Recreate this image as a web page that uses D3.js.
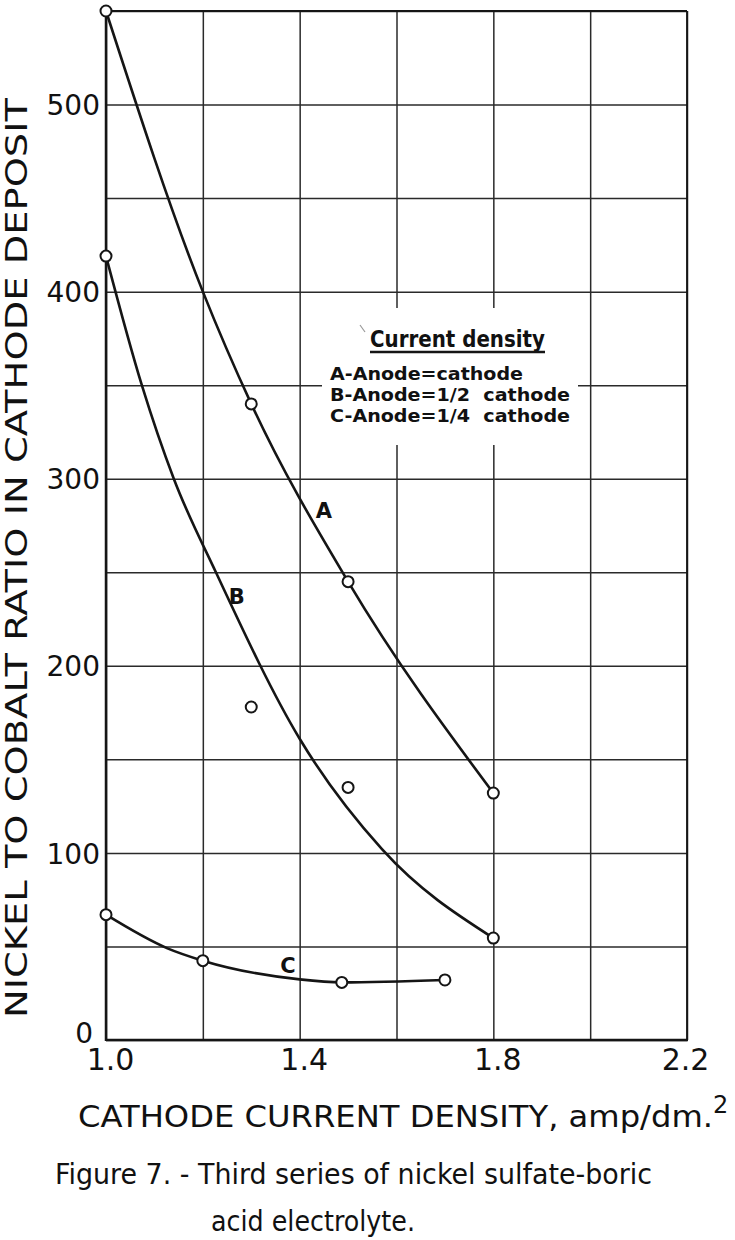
<!DOCTYPE html>
<html>
<head>
<meta charset="utf-8">
<script src="https://cdn.jsdelivr.net/npm/d3@7"></script>
<style>
  html, body { margin: 0; padding: 0; background: #fff; }
  svg { display: block; }
  text { fill: #111; font-family: "DejaVu Sans", sans-serif; white-space: pre; }
</style>
</head>
<body>
<svg id="chart" width="735" height="1240"></svg>
<script>
// ---- data ----
const xGridValues = [1.0, 1.2, 1.4, 1.6, 1.8, 2.0, 2.2];
const yGridValues = [0, 50, 100, 150, 200, 250, 300, 350, 400, 450, 500, 550];
const xTickLabels = [1.0, 1.4, 1.8, 2.2];
const yTickLabels = [0, 100, 200, 300, 400, 500];

// measured points (open circles)
const pointsA = [[1.0, 550], [1.3, 340], [1.5, 245], [1.8, 132]];
const pointsB = [[1.0, 419], [1.3, 178], [1.5, 135], [1.8, 54.5]];
const pointsC = [[1.0, 67], [1.2, 42.4], [1.487, 30.8], [1.7, 32.1]];

// hand-drawn smooth curves
const curveA = [[1.0, 550], [1.2, 400], [1.3, 340], [1.5, 245], [1.8, 132]];
const curveB = [[1.0, 419], [1.074, 350], [1.14, 300], [1.227, 250], [1.4, 161], [1.57, 102], [1.8, 54.5]];
const curveC = [[1.0, 67], [1.127, 49], [1.2, 42.4], [1.4, 32.4], [1.487, 30.8], [1.7, 32.1]];

const curveLabels = [
  { name: "A", x: 1.45, y: 279 },
  { name: "B", x: 1.27, y: 233 },
  { name: "C", x: 1.376, y: 36 }
];

const legendTitle = "Current density";
const legendItems = ["A-Anode=cathode", "B-Anode=1/2  cathode", "C-Anode=1/4  cathode"];

const yTitle = "NICKEL TO COBALT RATIO IN CATHODE DEPOSIT";
const xTitle = "CATHODE CURRENT DENSITY, amp/dm.";
const captionLines = ["Figure 7. - Third series of nickel sulfate-boric", "acid electrolyte."];

// ---- layout ----
const svg = d3.select("#chart");
const pL = 106, pR = 687, pT = 11, pB = 1040;
const x = d3.scaleLinear().domain([1.0, 2.2]).range([pL, pR]);
const y = d3.scaleLinear().domain([0, 550]).range([pB, pT]);
const ink = "#151515";

// gridlines
const gx = svg.append("g").attr("transform", `translate(0,${pB})`)
  .call(d3.axisBottom(x).tickValues(xGridValues).tickSize(-(pB - pT)).tickFormat(""));
const gy = svg.append("g").attr("transform", `translate(${pL},0)`)
  .call(d3.axisLeft(y).tickValues(yGridValues).tickSize(-(pR - pL)).tickFormat(""));
[gx, gy].forEach(g => {
  g.select(".domain").remove();
  g.selectAll(".tick line").attr("stroke", "#2a2a2a").attr("stroke-width", 1.5);
});

// frame
svg.append("line").attr("x1", pL).attr("x2", pR).attr("y1", pT).attr("y2", pT)
  .attr("stroke", ink).attr("stroke-width", 1.8);
svg.append("line").attr("x1", pR).attr("x2", pR).attr("y1", pT).attr("y2", pB)
  .attr("stroke", ink).attr("stroke-width", 1.8);
svg.append("line").attr("x1", pL).attr("x2", pL).attr("y1", pT).attr("y2", pB + 1)
  .attr("stroke", ink).attr("stroke-width", 2.5);
svg.append("line").attr("x1", pL).attr("x2", pR + 1).attr("y1", pB).attr("y2", pB)
  .attr("stroke", ink).attr("stroke-width", 2.6);

// legend background (white block interrupting grid)
svg.append("rect").attr("x", 322).attr("y", 308).attr("width", 256).attr("height", 137).attr("fill", "#fff");

// tick labels
const xl = svg.append("g").attr("transform", `translate(0,${pB})`)
  .call(d3.axisBottom(x).tickValues(xTickLabels).tickSize(0).tickPadding(9).tickFormat(d3.format(".1f")));
xl.select(".domain").remove();
xl.selectAll("text").attr("font-size", 30).attr("font-family", "DejaVu Sans").attr("fill", ink)
  .attr("dx", d => d < 2 ? 4 : -2);

const yl = svg.append("g").attr("transform", `translate(${pL},0)`)
  .call(d3.axisLeft(y).tickValues(yTickLabels).tickSize(0).tickPadding(6).tickFormat(d3.format("d")));
yl.select(".domain").remove();
yl.selectAll("text").attr("font-size", 28).attr("font-family", "DejaVu Sans").attr("fill", ink)
  .attr("dx", d => d === 0 ? -7 : 0)
  .attr("dy", d => d === 0 ? "0.1em" : "0.36em");

// curves
const line = d3.line().x(d => x(d[0])).y(d => y(d[1])).curve(d3.curveMonotoneX);
[curveA, curveB, curveC].forEach(c => {
  svg.append("path").datum(c).attr("d", line).attr("fill", "none")
    .attr("stroke", ink).attr("stroke-width", 2.6).attr("stroke-linejoin", "round");
});

// markers
[pointsA, pointsB, pointsC].forEach(pts => {
  svg.append("g").selectAll("circle").data(pts).join("circle")
    .attr("cx", d => x(d[0])).attr("cy", d => y(d[1])).attr("r", 5.5)
    .attr("fill", "#fff").attr("stroke", ink).attr("stroke-width", 2);
});

// curve labels
svg.append("g").selectAll("text").data(curveLabels).join("text")
  .attr("x", d => x(d.x)).attr("y", d => y(d.y)).attr("text-anchor", "middle")
  .attr("font-size", 21).attr("font-weight", "bold").text(d => d.name);

// legend
svg.append("line").attr("x1", 360).attr("y1", 325).attr("x2", 365).attr("y2", 332)
  .attr("stroke", "#999").attr("stroke-width", 1.2);
svg.append("text").attr("x", 370).attr("y", 347).attr("font-size", 23).attr("font-weight", "bold")
  .attr("textLength", 175).attr("lengthAdjust", "spacingAndGlyphs").text(legendTitle);
svg.append("line").attr("x1", 370).attr("x2", 545).attr("y1", 352).attr("y2", 352)
  .attr("stroke", ink).attr("stroke-width", 2.4);
const legendLens = [193, 240, 240];
svg.append("g").selectAll("text").data(legendItems).join("text")
  .attr("x", 330).attr("y", (d, i) => 380 + i * 21)
  .attr("font-size", 18).attr("font-weight", "bold")
  .attr("textLength", (d, i) => legendLens[i]).attr("lengthAdjust", "spacingAndGlyphs")
  .text(d => d);

// axis titles
svg.append("text").attr("transform", "translate(27,558) rotate(-90)")
  .attr("text-anchor", "middle").attr("font-size", 30)
  .attr("textLength", 920).attr("lengthAdjust", "spacingAndGlyphs").text(yTitle);
svg.append("text").attr("x", 78).attr("y", 1127).attr("font-size", 30)
  .attr("textLength", 635).attr("lengthAdjust", "spacingAndGlyphs").text(xTitle);
svg.append("text").attr("x", 713).attr("y", 1113).attr("font-size", 24).text("2");

// caption
svg.append("text").attr("x", 55).attr("y", 1184).attr("font-size", 28)
  .attr("textLength", 597).attr("lengthAdjust", "spacingAndGlyphs").text(captionLines[0]);
svg.append("text").attr("x", 211).attr("y", 1231).attr("font-size", 28)
  .attr("textLength", 204).attr("lengthAdjust", "spacingAndGlyphs").text(captionLines[1]);
</script>
</body>
</html>
